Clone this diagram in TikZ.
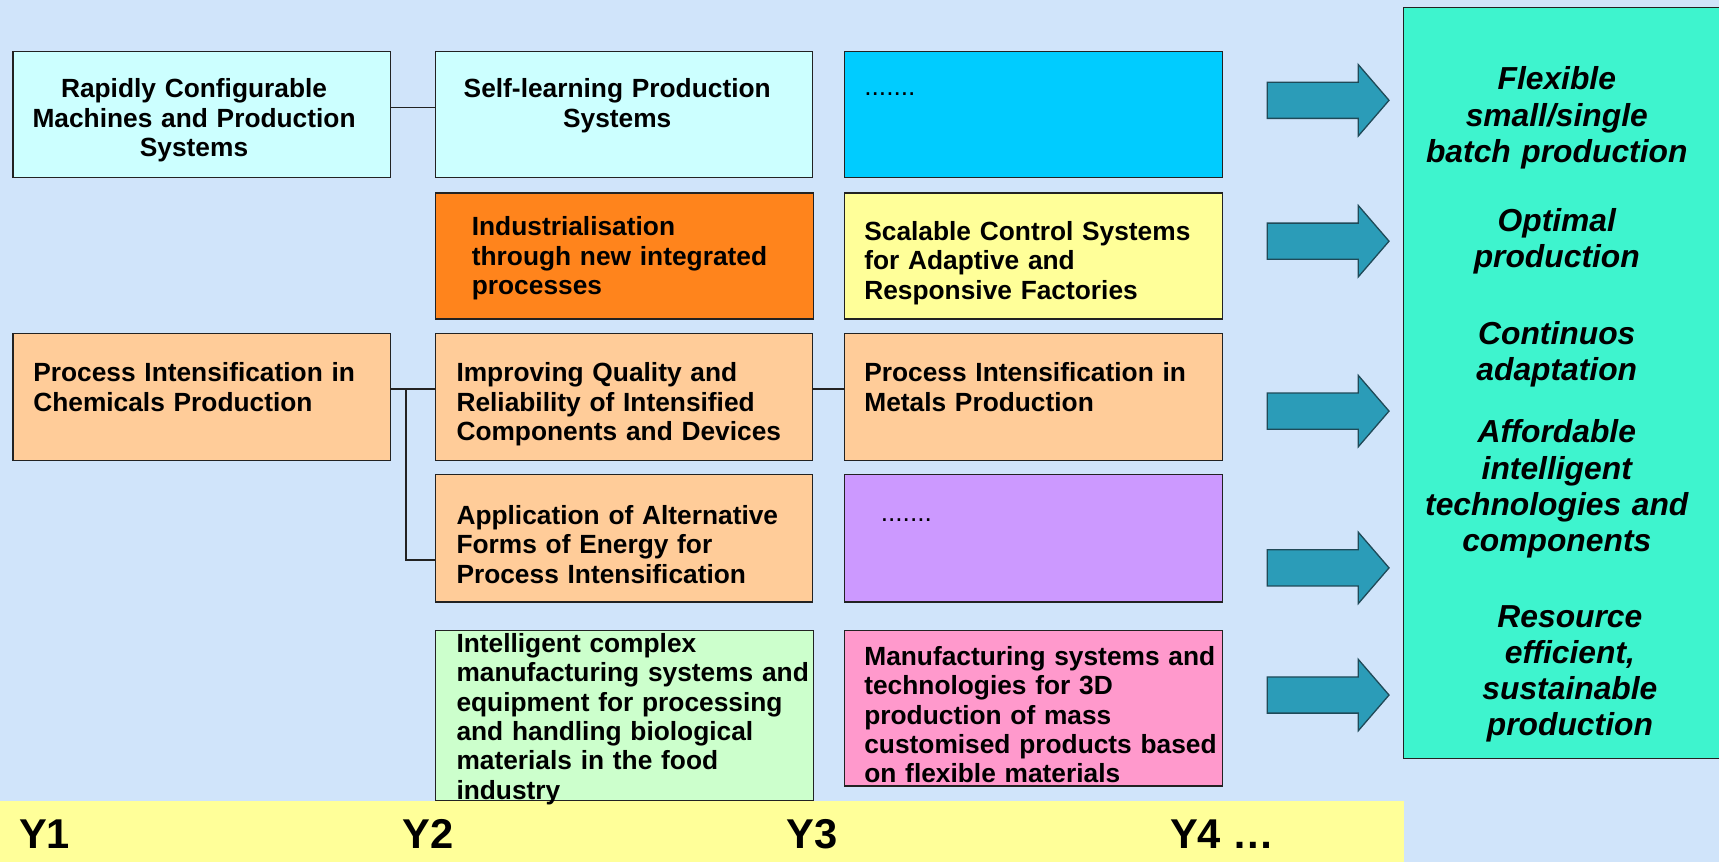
\documentclass[tikz,border=0pt]{standalone}
\usepackage{fontspec}
\setmainfont{Liberation Sans}
\definecolor{bgc}{HTML}{D0E4FA}
\definecolor{barc}{HTML}{FFFF99}
\definecolor{cyanl}{HTML}{CCFFFF}
\definecolor{bluec}{HTML}{00CCFF}
\definecolor{orangec}{HTML}{FF841C}
\definecolor{yellowc}{HTML}{FFFF99}
\definecolor{peach}{HTML}{FFCC99}
\definecolor{purplec}{HTML}{CC99FF}
\definecolor{greenc}{HTML}{CCFFCC}
\definecolor{pinkc}{HTML}{FF99CC}
\definecolor{tealc}{HTML}{3EF4CE}
\definecolor{arrowc}{HTML}{2B9CB8}
\definecolor{arrowd}{HTML}{1F4A58}
\definecolor{linec}{HTML}{222222}
\begin{document}
\begin{tikzpicture}[x=0.5pt,y=-0.5pt,
  box/.style={draw=linec, line width=0.6pt, inner sep=0pt},
  txt/.style={inner sep=0pt, text=black, font=\fontsize{12}{13.5}\selectfont\bfseries, text width=172pt},
  txtl/.style={txt, align=left, anchor=base west},
  txtc/.style={txt, align=center, anchor=base},
  gtxt/.style={txtl, font=\fontsize{12}{13.4}\selectfont\bfseries},
  outtxt/.style={inner sep=0pt, font=\fontsize{14.5}{16.5}\selectfont\bfseries\itshape, align=center, text width=140pt, anchor=base},
  ylab/.style={inner sep=0pt, text=black, font=\fontsize{19}{20}\selectfont\bfseries, anchor=base west},
  conn/.style={line width=0.7pt, draw=linec},
  bigarrow/.style={fill=arrowc, draw=arrowd, line width=0.6pt, line join=miter}
]
\useasboundingbox (0,0) rectangle (1568,786);
\fill[bgc] (0,0) rectangle (1568,786);
\fill[fill=barc] (0,731) rectangle (1281,786);

% boxes
\node[box, fill=cyanl, minimum width=172pt, minimum height=57.5pt] (ra) at (184,104.5) {};
\node[box, fill=cyanl, minimum width=172pt, minimum height=57.5pt] (sl) at (569,104.5) {};
\node[box, fill=bluec, minimum width=172.5pt, minimum height=57.5pt] (bl) at (942.5,104.5) {};
\node[box, fill=orangec, minimum width=172.5pt, minimum height=57.5pt] (ind) at (569.5,233.5) {};
\node[box, fill=yellowc, minimum width=172.5pt, minimum height=57.5pt] (sc) at (942.5,233.5) {};
\node[box, fill=peach, minimum width=172pt, minimum height=58pt] (pc) at (184,362) {};
\node[box, fill=peach, minimum width=172pt, minimum height=58pt] (iq) at (569,362) {};
\node[box, fill=peach, minimum width=172.5pt, minimum height=58pt] (me) at (942.5,362) {};
\node[box, fill=peach, minimum width=172pt, minimum height=58pt] (ap) at (569,491) {};
\node[box, fill=purplec, minimum width=172.5pt, minimum height=58pt] (pu) at (942.5,491) {};
\node[box, fill=greenc, minimum width=172.5pt, minimum height=77.5pt] (gr) at (569.5,652.5) {};
\node[box, fill=pinkc, minimum width=172.5pt, minimum height=71pt] (pk) at (942.5,646) {};

% outcome box (its right side runs off the page, left open)
\node[fill=tealc, inner sep=0pt, minimum width=200pt, minimum height=342pt, anchor=north west] (out) at (1280,7) {};
\draw[draw=linec, line width=0.6pt] (out.north east) -- (out.north west) -- (out.south west) -- (out.south east);

% texts
\node[txtc] (ra-t) at (177,89) {Rapidly Configurable\\Machines and Production\\Systems};
\node[txtc] (sl-t) at (563,89) {Self-learning Production\\Systems};
\node[txtl, font=\fontsize{12}{13.5}\selectfont] (bl-t) at (788,87) {.......};
\node[txtl] (ind-t) at (430,215) {Industrialisation\\through new integrated\\processes};
\node[txtl] (sc-t) at (788,219) {Scalable Control Systems\\for Adaptive and\\Responsive Factories};
\node[txtl] (pc-t) at (30,348) {Process Intensification in\\Chemicals Production};
\node[txtl] (iq-t) at (416,348) {Improving Quality and\\Reliability of Intensified\\Components and Devices};
\node[txtl] (me-t) at (788,348) {Process Intensification in\\Metals Production};
\node[txtl] (ap-t) at (416,478) {Application of Alternative\\Forms of Energy for\\Process Intensification};
\node[txtl, font=\fontsize{12}{13.5}\selectfont] (pu-t) at (803,476) {.......};
\node[gtxt] (gr-t) at (416,595) {Intelligent complex\\manufacturing systems and\\equipment for processing\\and handling biological\\materials in the food\\industry};
\node[gtxt] (pk-t) at (788,607) {Manufacturing systems and\\technologies for 3D\\production of mass\\customised products based\\on flexible materials};

% outcomes
\node[outtxt] (o1) at (1420,82) {Flexible\\small/single\\batch production};
\node[outtxt] (o2) at (1420,211) {Optimal\\production};
\node[outtxt] (o3) at (1420,314) {Continuos\\adaptation};
\node[outtxt] (o4) at (1420,404) {Affordable\\intelligent\\technologies and\\components};
\node[outtxt] (o5) at (1432,572) {Resource\\efficient,\\sustainable\\production};

% block arrows
\foreach \c in {91.5,220,375,518,634}{
  \draw[bigarrow] (1156,{\c-16.5}) -- (1239,{\c-16.5}) -- (1239,{\c-32.5}) -- (1267,\c)
    -- (1239,{\c+32.5}) -- (1239,{\c+16.5}) -- (1156,{\c+16.5}) -- cycle;
}

% connectors
\draw[conn] ([yshift=3.25pt]ra.east) -- ([yshift=3.25pt]sl.west);
\draw[conn] ([yshift=3.5pt]pc.east) -- ([yshift=3.5pt]iq.west);
\draw[conn] ([yshift=3.5pt]iq.east) -- ([yshift=3.5pt]me.west);
\draw[conn] ([yshift=3.5pt,xshift=6.85pt]pc.east) |- ([yshift=-9.9pt]ap.west);

% year labels
\node[ylab] (y1) at (17,774) {Y1};
\node[ylab] (y2) at (367,774) {Y2};
\node[ylab] (y3) at (717,774) {Y3};
\node[ylab] (y4) at (1067,774) {Y4 …};
\end{tikzpicture}
\end{document}
